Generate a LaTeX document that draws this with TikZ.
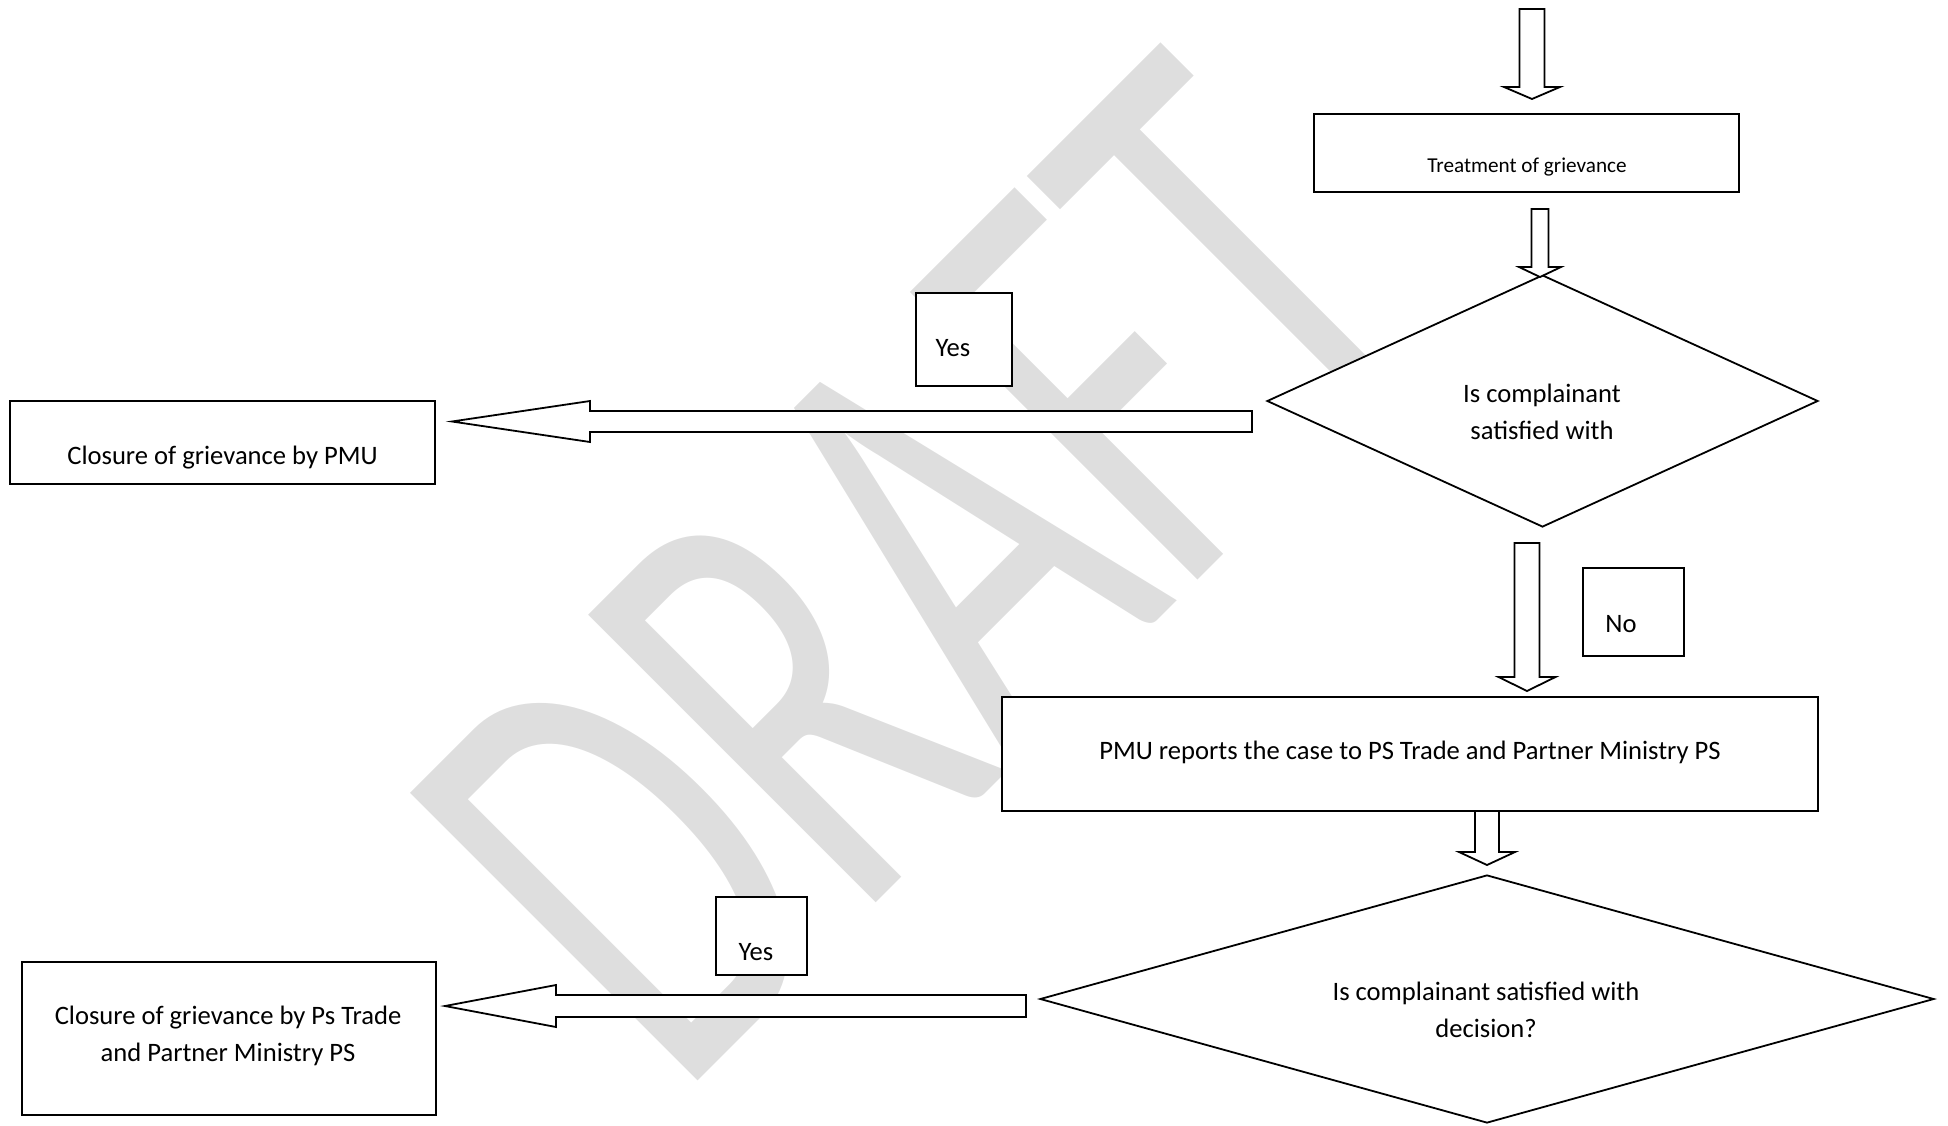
\documentclass[tikz,border=0pt]{standalone}
\usepackage{fontspec}
\setmainfont{Carlito}
\usepackage{graphicx}
\usetikzlibrary{shapes.geometric,calc}
\definecolor{wmgray}{RGB}{222,222,222}
\tikzset{
  box/.style={draw, fill=white, line width=0.9pt, inner sep=0pt, rectangle},
  dia/.style={draw, fill=white, line width=0.9pt, inner sep=0pt, diamond},
  txt/.style={inner sep=0pt, font=\fontsize{13.3}{18.5}\selectfont, align=center},
  smalltxt/.style={inner sep=0pt, font=\fontsize{10.6}{13}\selectfont},
  arr/.style={draw, fill=white, line width=0.9pt, line join=miter},
  blockarrow/.style n args={3}{
    to path={
      let \p1=(\tikztostart), \p2=(\tikztotarget),
          \n1={atan2(\y2-\y1,\x2-\x1)},
          \n2={veclen(\x2-\x1,\y2-\y1)}
      in
      ($(\p1)+(\n1+90:#1)$)
      -- ($(\p1)+(\n1:\n2-#3)+(\n1+90:#1)$)
      -- ($(\p1)+(\n1:\n2-#3)+(\n1+90:#2)$)
      -- (\p2)
      -- ($(\p1)+(\n1:\n2-#3)+(\n1-90:#2)$)
      -- ($(\p1)+(\n1:\n2-#3)+(\n1-90:#1)$)
      -- ($(\p1)+(\n1-90:#1)$)
      -- cycle
    }
  }
}
\begin{document}
\begin{tikzpicture}[x=0.5pt,y=-0.5pt]
\useasboundingbox (0,0) rectangle (1948,1125);
% watermark
\node[rotate=45, inner sep=0pt, text=wmgray] (wm) at (921,570)
  {\scalebox{0.643}[1]{\fontsize{317}{317}\selectfont DRAFT}};

% boxes
\node[box, minimum width=212.5pt, minimum height=39pt] (treat) at (1526.5,153) {};
\node[dia, minimum width=275.5pt, minimum height=126pt] (d1) at (1542.5,401) {};
\node[box, minimum width=48pt, minimum height=46.5pt] (yes1) at (964,339.5) {};
\node[box, minimum width=212.5pt, minimum height=41.5pt] (close1) at (222.5,442.5) {};
\node[box, minimum width=50.5pt, minimum height=44pt] (no) at (1633.5,612) {};
\node[box, minimum width=408pt, minimum height=57pt] (pmu) at (1410,754) {};
\node[dia, minimum width=447pt, minimum height=124pt] (d2) at (1487,999) {};
\node[box, minimum width=45.5pt, minimum height=39pt] (yes2) at (761.5,936) {};
\node[box, minimum width=207pt, minimum height=76.5pt] (close2) at (229,1038.5) {};

% texts
\node[smalltxt] (treatt) at (1527,167.5) {Treatment of grievance};
\node[txt] (d1t) at (1542,411.5) {Is complainant\\satisfied with};
\node[txt] (yes1t) at (953,348) {Yes};
\node[txt] (close1t) at (222.5,458) {Closure of grievance by PMU};
\node[txt] (not) at (1621,624) {No};
\node[txt] (pmut) at (1410,752) {PMU reports the case to PS Trade and Partner Ministry PS};
\node[txt] (d2t) at (1486,1010) {Is complainant satisfied with\\decision?};
\node[txt] (yes2t) at (756,952) {Yes};
\node[txt] (close2t) at (228,1036) {Closure of grievance by Ps Trade\\and Partner Ministry PS};

% arrow end points
\coordinate (a1s) at (1532,9);    \coordinate (a1e) at (1532,99);
\coordinate (a2s) at (1540,209);  \coordinate (a2e) at (1540,277);
\coordinate (a3s) at (1527,543);  \coordinate (a3e) at (1527,691);
\coordinate (a4s) at (1487,811);  \coordinate (a4e) at (1487,865);
\coordinate (a5s) at (1252,421.5);\coordinate (a5e) at (452,421.5);
\coordinate (a6s) at (1026,1006); \coordinate (a6e) at (445,1006);

\draw[arr] (a1s) to[blockarrow={6.25pt}{14pt}{6pt}] (a1e);
\draw[arr] (a2s) to[blockarrow={4.25pt}{10.5pt}{5pt}] (a2e);
\draw[arr] (a3s) to[blockarrow={6.25pt}{14.25pt}{7pt}] (a3e);
\draw[arr] (a4s) to[blockarrow={6pt}{14pt}{6.5pt}] (a4e);
\draw[arr] (a5s) to[blockarrow={5.25pt}{10.25pt}{69pt}] (a5e);
\draw[arr] (a6s) to[blockarrow={5.5pt}{10.5pt}{55.5pt}] (a6e);
\end{tikzpicture}
\end{document}
